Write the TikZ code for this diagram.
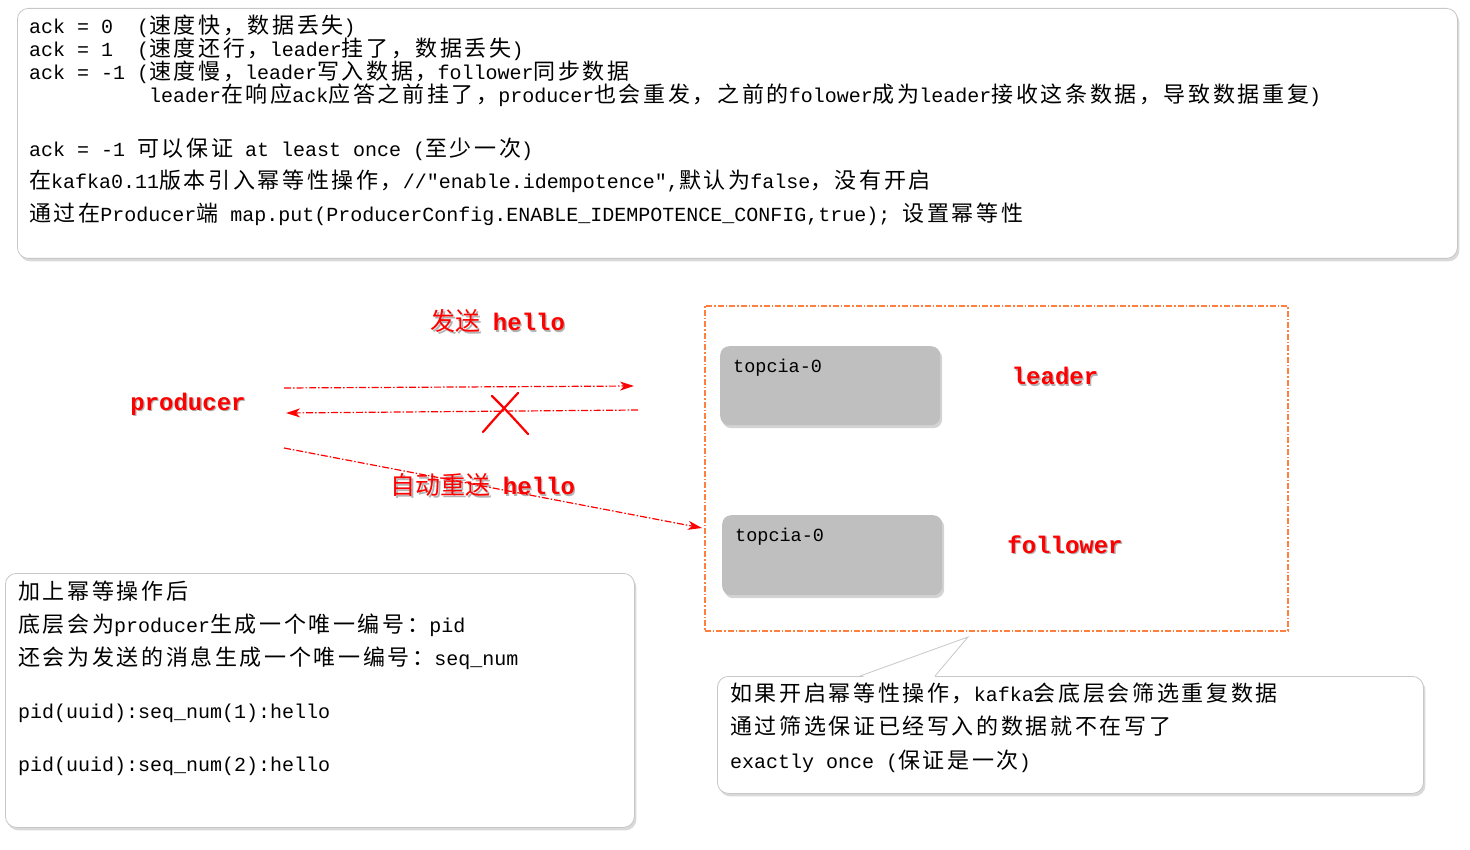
\documentclass[tikz,border=0pt]{standalone}
\usepackage{fontspec}
\usetikzlibrary{arrows.meta,shadows}
\newfontfamily\monof{Liberation Mono}
\newfontfamily\cjkf[LetterSpace=12]{Noto Sans CJK SC}
\newfontfamily\cjkb{Noto Sans CJK SC}
\newcommand\zh[1]{{\cjkf\fontsize{22}{23}\selectfont #1}}
\newcommand\redtxt[1]{\makebox[0pt][l]{\kern1.3pt\raisebox{-1.3pt}{\color{black!30}#1}}{\color{red}#1}}
\newcommand\rmono[1]{{\monof\bfseries\fontsize{24}{28}\selectfont #1}}
\newcommand\rzh[1]{{\cjkb\fontsize{25}{28}\selectfont #1}}
\definecolor{boxorange}{HTML}{FF7F3F}
\definecolor{partgray}{HTML}{BFBFBF}
\begin{document}
\begin{tikzpicture}[x=1pt,y=-1pt,
  panel/.style={draw=black!22, line width=0.8pt, fill=white, rounded corners=11pt,
    drop shadow={shadow xshift=2pt,shadow yshift=-3pt,opacity=0.3},
    anchor=north west, inner sep=0pt},
  partbox/.style={fill=partgray, rounded corners=9pt, anchor=north west, inner sep=0pt,
    drop shadow={shadow xshift=2pt,shadow yshift=-3pt,opacity=0.35}},
  txt/.style={anchor=base west, inner sep=0pt, font=\monof\fontsize{20}{23}\selectfont},
  redlbl/.style={inner sep=0pt, anchor=center},
  flow/.style={draw=red, line width=1.2pt, dash pattern=on 7pt off 2pt on 1.5pt off 2pt,
    -{Stealth[length=14pt,width=9pt,inset=4pt]}},
  xmark/.style={draw=red, line width=2.2pt, line cap=round},
]
\useasboundingbox (0,0) rectangle (1470,850);

% ---------- top panel ----------
\node[panel, minimum width=1440pt, minimum height=250pt] (top) at (17,8) {};
\node[txt] (t1) at (29,34) {ack = 0~~(\zh{速度快，数据丢失})};
\node[txt] (t2) at (29,57) {ack = 1~~(\zh{速度还行，}leader\zh{挂了，数据丢失})};
\node[txt] (t3) at (29,80) {ack = -1 (\zh{速度慢，}leader\zh{写入数据，}follower\zh{同步数据}};
\node[txt] (t4) at (149,103) {leader\zh{在响应}ack\zh{应答之前挂了，}producer\zh{也会重发，之前的}folower\zh{成为}leader\zh{接收这条数据，导致数据重复})};
\node[txt] (t5) at (29,157) {ack = -1 \zh{可以保证} at least once (\zh{至少一次})};
\node[txt] (t6) at (29,189) {\zh{在}kafka0.11\zh{版本引入幂等性操作，}//\char34 enable.idempotence\char34,\zh{默认为}false\zh{，没有开启}};
\node[txt] (t7) at (29,222) {\zh{通过在}Producer\zh{端} map.put(ProducerConfig.ENABLE\_IDEMPOTENCE\_CONFIG,true); \zh{设置幂等性}};

% ---------- cluster ----------
\node[draw=boxorange, line width=1.6pt, dash pattern=on 6pt off 2pt on 1.5pt off 2pt,
      minimum width=583pt, minimum height=325pt, anchor=north west, inner sep=0pt] (cluster) at (704,305) {};
\node[partbox, minimum width=220pt, minimum height=79pt] (leaderbox) at (720,346) {};
\node[partbox, minimum width=220pt, minimum height=80pt] (followerbox) at (722,515) {};
\node[txt, font=\monof\fontsize{18.5}{22}\selectfont] (lt) at (733,372) {topcia-0};
\node[txt, font=\monof\fontsize{18.5}{22}\selectfont] (ft) at (735,541) {topcia-0};
\node[redlbl] (leaderlbl) at (1055,377) {\redtxt{\rmono{leader}}};
\node[redlbl] (followerlbl) at (1065,545) {\redtxt{\rmono{follower}}};

% ---------- producer and flows ----------
\node[redlbl] (producer) at (188,405) {\redtxt{\rmono{producer}}};
\node[redlbl] (sendlbl) at (498,322) {\redtxt{\rzh{发送}\hspace{12pt}\rmono{hello}}};
\node[redlbl] (resendlbl) at (483,486) {\redtxt{\rzh{自动重送}\hspace{12pt}\rmono{hello}}};

\coordinate (s1) at (284,388); \coordinate (e1) at (634,386);
\coordinate (s2) at (638,410); \coordinate (e2) at (286,413);
\coordinate (s3) at (284,448); \coordinate (e3) at (702,528);
\draw[flow] (s1) -- (e1);
\draw[flow] (s2) -- (e2);
\draw[flow] (s3) -- (e3);

\draw[xmark] (483,432) .. controls (497,416) .. (518,393);
\draw[xmark] (492,396) .. controls (507,411) .. (528,434);

% ---------- bottom-left panel ----------
\node[panel, minimum width=629pt, minimum height=254pt] (idem) at (5,573) {};
\node[txt] (b1) at (18,599) {\zh{加上幂等操作后}};
\node[txt] (b2) at (18,632) {\zh{底层会为}producer\zh{生成一个唯一编号：}pid};
\node[txt] (b3) at (18,665) {\zh{还会为发送的消息生成一个唯一编号：}seq\_num};
\node[txt] (b4) at (18,718) {pid(uuid):seq\_num(1):hello};
\node[txt] (b5) at (18,771) {pid(uuid):seq\_num(2):hello};

% ---------- callout ----------
\node[panel, minimum width=706pt, minimum height=117pt] (note) at (717,676) {};
\fill[white] (861,677.5) -- (968,637) -- (934,677.5) -- cycle;
\draw[black!22, line width=0.8pt] (860,676) -- (968,637) -- (935,676);
\node[txt] (c1) at (730,701) {\zh{如果开启幂等性操作，}kafka\zh{会底层会筛选重复数据}};
\node[txt] (c2) at (730,734) {\zh{通过筛选保证已经写入的数据就不在写了}};
\node[txt] (c3) at (730,768) {exactly once (\zh{保证是一次})};
\end{tikzpicture}
\end{document}
